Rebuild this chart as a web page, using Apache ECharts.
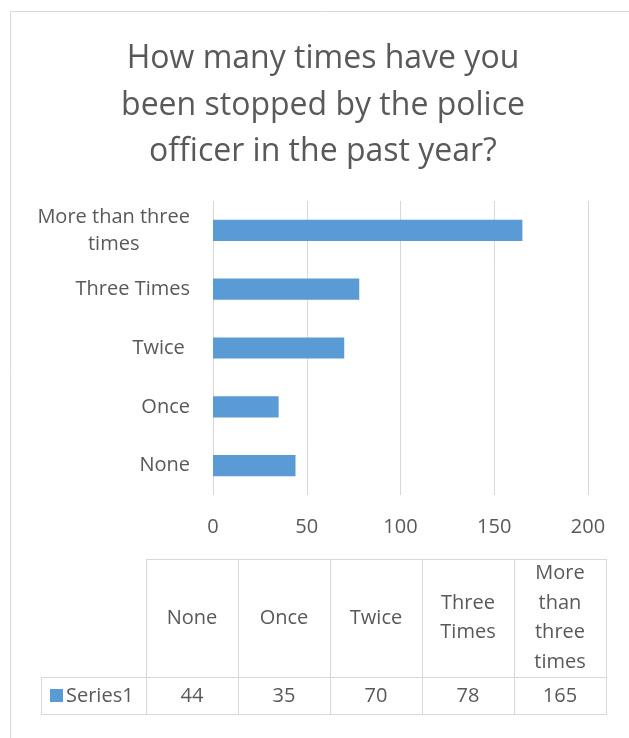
<!DOCTYPE html>
<html>
<head>
<meta charset="utf-8">
<script src="https://cdn.jsdelivr.net/npm/echarts@6/dist/echarts.min.js"></script>
<style>
  html, body { margin: 0; padding: 0; background: #fff; }
  #chart { width: 629px; height: 738px; }
</style>
</head>
<body>
<div id="chart"></div>
<script>
// ---- data ----
const titleLines = ['How many times have you', 'been stopped by the police', 'officer in the past year?'];
const categories = ['None', 'Once', 'Twice ', 'Three Times', 'More than three times'];
const seriesName = 'Series1';
const seriesValues = [44, 35, 70, 78, 165];
const valueTicks = [0, 50, 100, 150, 200];

// ---- style ----
const FONT = 'Open Sans';
const TEXT = '#595959';
const LINE = '#d9d9d9';
const BAR = '#5b9bd5';
const TITLE_SIZE = 32;
const LABEL_SIZE = 20;

const measureCtx = document.createElement('canvas').getContext('2d');
measureCtx.font = LABEL_SIZE + 'px "' + FONT + '"';

// Greedy word wrap by character budget
function wrapWords(text, maxChars) {
  const words = text.trim().split(' ');
  const lines = [];
  let cur = '';
  words.forEach(w => {
    const next = cur ? cur + ' ' + w : w;
    if (next.length > maxChars && cur) { lines.push(cur); cur = w; }
    else cur = next;
  });
  if (cur) lines.push(cur);
  return lines;
}

// table geometry
const tableLeft = 146, colW = 92, tableTop = 559, headH = 118, rowH = 37, keyLeft = 41;
const tableRight = tableLeft + colW * categories.length;
const rowTop = tableTop + headH, rowBottom = rowTop + rowH;

const graphics = [];
// outer chart frame
graphics.push({ type: 'rect', shape: { x: 10.5, y: 11.5, width: 660, height: 760 },
  style: { fill: 'none', stroke: LINE, lineWidth: 1 }, silent: true });
// title
graphics.push({ type: 'text', x: 323, y: 36,
  style: { text: titleLines.join('\n'), align: 'center', verticalAlign: 'top',
    fontFamily: FONT, fontSize: TITLE_SIZE, lineHeight: 46.5, fill: TEXT } });

function hline(x1, x2, y) {
  graphics.push({ type: 'line', shape: { x1: x1, y1: y + 0.5, x2: x2, y2: y + 0.5 },
    style: { stroke: LINE, lineWidth: 1 }, silent: true });
}
function vline(x, y1, y2) {
  graphics.push({ type: 'line', shape: { x1: x + 0.5, y1: y1, x2: x + 0.5, y2: y2 },
    style: { stroke: LINE, lineWidth: 1 }, silent: true });
}
hline(tableLeft, tableRight, tableTop);
hline(keyLeft, tableRight, rowTop);
hline(keyLeft, tableRight, rowBottom);
vline(keyLeft, rowTop, rowBottom + 1);
for (let i = 0; i <= categories.length; i++) vline(tableLeft + colW * i, tableTop, rowBottom + 1);

categories.forEach((c, i) => {
  const cx = tableLeft + colW * i + colW / 2;
  graphics.push({ type: 'text', x: cx, y: tableTop + headH / 2,
    style: { text: c.trim().split(' ').join('\n'), align: 'center', verticalAlign: 'middle',
      fontFamily: FONT, fontSize: LABEL_SIZE, lineHeight: 29.5, fill: TEXT } });
  graphics.push({ type: 'text', x: cx, y: rowTop + rowH / 2 + 1,
    style: { text: String(seriesValues[i]), align: 'center', verticalAlign: 'middle',
      fontFamily: FONT, fontSize: LABEL_SIZE, fill: TEXT } });
});
// legend key + series name
graphics.push({ type: 'rect', shape: { x: 50, y: 689, width: 13, height: 13 }, style: { fill: BAR } });
graphics.push({ type: 'text', x: 66, y: rowTop + rowH / 2 + 1,
  style: { text: seriesName, align: 'left', verticalAlign: 'middle',
    fontFamily: FONT, fontSize: LABEL_SIZE, fill: TEXT } });

const chart = echarts.init(document.getElementById('chart'), null, { renderer: 'canvas' });
chart.setOption({
  animation: false,
  backgroundColor: '#fff',
  grid: { left: 213, right: 41, top: 201, height: 294, containLabel: false },
  xAxis: {
    type: 'value', min: valueTicks[0], max: valueTicks[valueTicks.length - 1],
    interval: valueTicks[1] - valueTicks[0],
    axisLine: { show: false }, axisTick: { show: false },
    splitLine: { lineStyle: { color: LINE, width: 1 } },
    axisLabel: { color: TEXT, fontFamily: FONT, fontSize: LABEL_SIZE, margin: 22 }
  },
  yAxis: {
    type: 'category', data: categories,
    axisLine: { show: false }, axisTick: { show: false },
    axisLabel: {
      color: TEXT, fontFamily: FONT, fontSize: LABEL_SIZE, margin: 23, lineHeight: 27,
      formatter: function (v) {
        const lines = wrapWords(v, 15);
        if (lines.length === 1) return v;
        return lines.map(l => '{w|' + l + '}').join('\n');
      },
      rich: {
        w: {
          width: Math.max.apply(null, wrapWords(categories[4], 15).map(l => measureCtx.measureText(l).width)),
          align: 'center', color: TEXT, fontFamily: FONT, fontSize: LABEL_SIZE, lineHeight: 27
        }
      }
    }
  },
  series: [{
    name: seriesName, type: 'bar', data: seriesValues, barCategoryGap: '64%',
    itemStyle: { color: BAR }
  }],
  graphic: graphics
});
</script>
</body>
</html>
